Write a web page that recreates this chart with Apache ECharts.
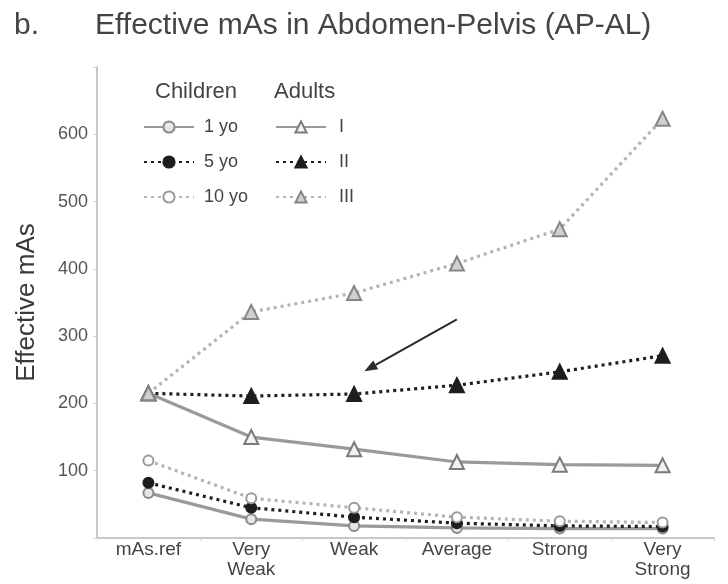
<!DOCTYPE html>
<html>
<head>
<meta charset="utf-8">
<script src="https://cdn.jsdelivr.net/npm/echarts@6/dist/echarts.min.js"></script>
<style>
  html, body { margin: 0; padding: 0; background: #fff; }
  #chart { width: 728px; height: 584px; }
</style>
</head>
<body>
<div id="chart"></div>
<script>
// Exposure categories along the x axis
const categories = ['mAs.ref', 'Very\nWeak', 'Weak', 'Average', 'Strong', 'Very\nStrong'];

// Effective mAs, children (by age)
const child1yo  = [67, 28, 18, 15, 14, 14];
const child5yo  = [82, 45, 31, 22, 18, 17];
const child10yo = [115, 59, 45, 31, 25, 23];

// Effective mAs, adults (by size class)
const adultI   = [215, 150, 132, 113, 109, 108];
const adultII  = [215, 211, 214, 227, 247, 271];
const adultIII = [215, 336, 364, 408, 459, 623];

// Y axis range and tick step
const yMin = 0, yMax = 700, yStep = 100;

// Annotation arrow endpoints in data space: [category index, value]
const arrowTail = [3.0, 325];
const arrowHead = [2.1, 248];

const FONT = '"Liberation Sans", Arial, sans-serif';
const dotted = [3, 4];

function lineSeries(name, data, lineColor, lineType, symbol, size, fill, border) {
  return {
    name, type: 'line', data,
    symbol, symbolSize: size, showAllSymbol: true,
    lineStyle: { color: lineColor, width: 3.2, type: lineType, cap: 'butt' },
    itemStyle: { color: fill, borderColor: border, borderWidth: 2 },
    emphasis: { disabled: true },
    animation: false
  };
}

const chart = echarts.init(document.getElementById('chart'), null, { renderer: 'canvas' });

const option = {
  backgroundColor: '#fff',
  textStyle: { fontFamily: FONT },
  grid: { left: 97, right: 14, top: 67, bottom: 46 },
  xAxis: {
    type: 'category',
    data: categories,
    boundaryGap: true,
    axisLine: { show: true, lineStyle: { color: '#c8c8c8', width: 2 } },
    axisTick: { show: true, length: 3, lineStyle: { color: '#ddd' } },
    axisLabel: { color: '#454545', fontSize: 19, fontFamily: FONT, margin: 2, lineHeight: 20, interval: 0 }
  },
  yAxis: {
    type: 'value',
    min: yMin, max: yMax, interval: yStep,
    name: 'Effective mAs',
    nameLocation: 'middle',
    nameGap: 57,
    nameRotate: 90,
    nameTextStyle: { color: '#3a3a3a', fontSize: 26, fontFamily: FONT },
    axisLine: { show: true, lineStyle: { color: '#c8c8c8', width: 2 } },
    axisTick: { show: true, length: 4, lineStyle: { color: '#d5d5d5' } },
    splitLine: { show: false },
    axisLabel: {
      color: '#555', fontSize: 18, fontFamily: FONT, margin: 9,
      formatter: v => (v === yMin || v === yMax) ? '' : String(v)
    }
  },
  legend: [
    {
      data: ['1 yo', '5 yo', '10 yo'],
      orient: 'vertical', left: 143, top: 118, padding: 0,
      itemWidth: 50, itemHeight: 14, itemGap: 17,
      selectedMode: false,
      textStyle: { color: '#444', fontSize: 18, fontFamily: FONT, padding: [0, 0, 0, 5] }
    },
    {
      data: ['I', 'II', 'III'],
      orient: 'vertical', left: 275, top: 118, padding: 0,
      itemWidth: 50, itemHeight: 14, itemGap: 17,
      selectedMode: false,
      textStyle: { color: '#444', fontSize: 18, fontFamily: FONT, padding: [0, 0, 0, 8] }
    }
  ],
  series: [
    lineSeries('1 yo',  child1yo,  '#9a9a9a', 'solid', 'circle', 10, '#e6e6e6', '#8a8a8a'),
    lineSeries('5 yo',  child5yo,  '#1e1e1e', dotted,  'circle', 10, '#1e1e1e', '#1e1e1e'),
    lineSeries('10 yo', child10yo, '#b4b4b4', dotted,  'circle', 10, '#ffffff', '#9a9a9a'),
    lineSeries('I',     adultI,    '#9a9a9a', 'solid', 'triangle', 14, '#f2f2f2', '#7a7a7a'),
    lineSeries('II',    adultII,   '#1e1e1e', dotted,  'triangle', 14, '#1e1e1e', '#1e1e1e'),
    lineSeries('III',   adultIII,  '#b4b4b4', dotted,  'triangle', 14, '#d0d0d0', '#858585')
  ],
  graphic: [
    { id: 'panel', type: 'text', left: 14, top: 11, style: { text: 'b.', fill: '#444', font: '30px ' + FONT } },
    { id: 'title', type: 'text', left: 95, top: 11, style: { text: 'Effective mAs in Abdomen-Pelvis (AP-AL)', fill: '#444', font: '30px ' + FONT } },
    { id: 'hdrChildren', type: 'text', left: 155, top: 81, style: { text: 'Children', fill: '#444', font: '22px ' + FONT } },
    { id: 'hdrAdults', type: 'text', left: 274, top: 81, style: { text: 'Adults', fill: '#444', font: '22px ' + FONT } }
  ]
};

chart.setOption(option);

// Annotation arrow, placed in data space through the axes
function toPixel(p) {
  const i = Math.floor(p[0]);
  const f = p[0] - i;
  const xa = chart.convertToPixel({ xAxisIndex: 0 }, categories[i]);
  const xb = f > 0 ? chart.convertToPixel({ xAxisIndex: 0 }, categories[i + 1]) : xa;
  const y = chart.convertToPixel({ yAxisIndex: 0 }, p[1]);
  return [xa + f * (xb - xa), y];
}
const t = toPixel(arrowTail), h = toPixel(arrowHead);
const ang = Math.atan2(h[1] - t[1], h[0] - t[0]);
const L = 13, W = 5;
const bx = h[0] - L * Math.cos(ang), by = h[1] - L * Math.sin(ang);
const nx = -Math.sin(ang), ny = Math.cos(ang);
option.graphic.push(
  { id: 'arrowShaft', type: 'line', shape: { x1: t[0], y1: t[1], x2: bx, y2: by }, style: { stroke: '#2a2a2a', lineWidth: 2 } },
  { id: 'arrowHead', type: 'polygon', shape: { points: [[h[0], h[1]], [bx + nx * W, by + ny * W], [bx - nx * W, by - ny * W]] }, style: { fill: '#2a2a2a' } }
);
chart.setOption({ graphic: option.graphic });
</script>
</body>
</html>
